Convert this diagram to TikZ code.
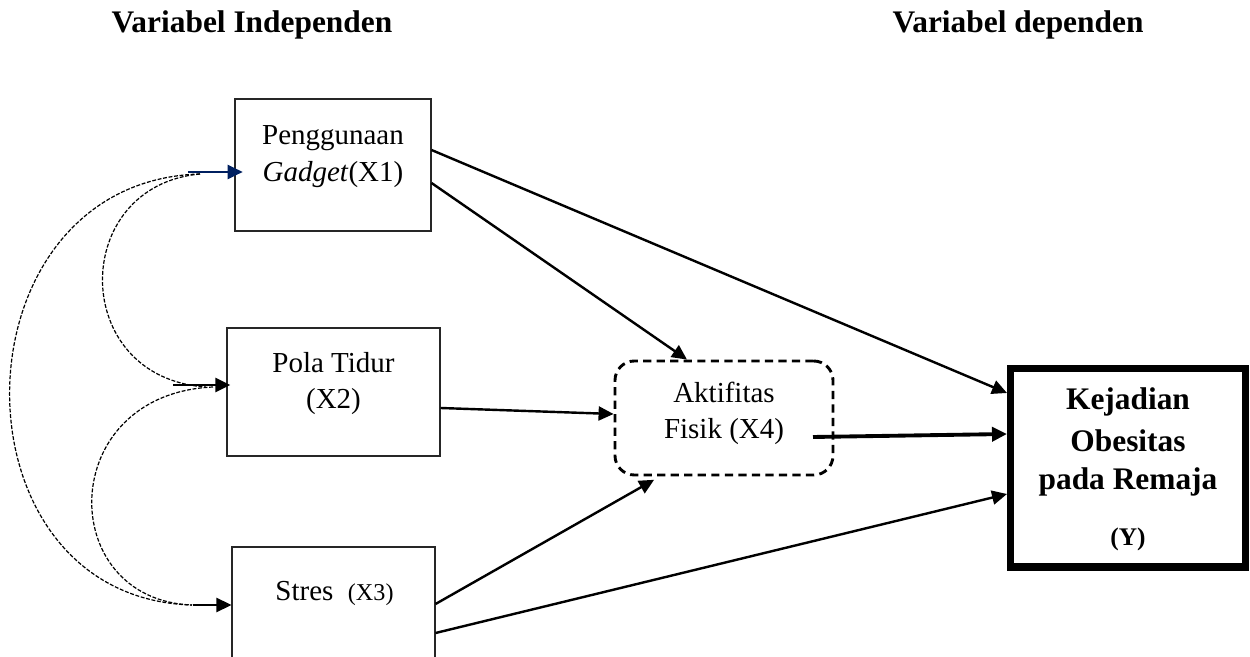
\documentclass[tikz,border=0pt]{standalone}
\usepackage{fontspec}
\setmainfont{Liberation Serif}
\usetikzlibrary{arrows.meta,fit}
\definecolor{navyarr}{RGB}{0,32,96}
\begin{document}
\begin{tikzpicture}[x=0.414pt,y=-0.414pt,
  box/.style={draw=black!85, line width=0.45pt, inner sep=0pt},
  dbox/.style={draw, line width=1.2pt, dash pattern=on 3.4pt off 2.2pt, rounded corners=8pt, inner sep=0pt},
  ybox/.style={draw, line width=2.9pt, inner sep=0pt},
  lbl/.style={inner sep=0pt, anchor=base, font=\fontsize{12}{14}\selectfont},
  blbl/.style={inner sep=0pt, anchor=base, font=\fontsize{13}{15}\selectfont\bfseries},
  conn/.style={line width=1pt, -{Triangle[length=6.2pt,width=5.8pt]}},
  corr/.style={line width=0.5pt, dash pattern=on 1.6pt off 0.7pt},
]
\useasboundingbox (0,0) rectangle (1250,657);
\clip (0,0) rectangle (1250,657);

% headings
\node[blbl] (t1) at (252,33) {Variabel Independen};
\node[blbl] (t2) at (1018,33) {Variabel dependen};

% boxes
\node[box, fit={(235,99) (431,231)}] (x1) {};
\node[box, fit={(227,328) (440,456)}] (x2) {};
\node[box, fit={(232,547) (435,720)}] (x3) {};
\node[dbox, fit={(615,361) (833,475)}] (x4) {};
\node[ybox, fit={(1010.5,369) (1245.5,567)}] (y) {};

% labels
\node[lbl] (x1a) at (333,145) {Penggunaan};
\node[lbl] (x1b) at (333,182) {\textit{Gadget}(X1)};
\node[lbl] (x2a) at (333.5,373) {Pola Tidur};
\node[lbl] (x2b) at (333.5,409) {(X2)};
\node[lbl, anchor=base west] (x3a) at (275,601) {Stres\hspace{6pt}{\fontsize{10}{12}\selectfont(X3)}};
\node[lbl] (x4a) at (724,403) {Aktifitas};
\node[lbl] (x4b) at (724,439) {Fisik (X4)};
\node[blbl] (ya) at (1128,410) {Kejadian};
\node[blbl] (yb) at (1128,452) {Obesitas};
\node[blbl] (yc) at (1128,490) {pada Remaja};
\node[blbl, font=\fontsize{10.5}{12}\selectfont\bfseries] (yd) at (1128,546) {(Y)};

% main connectors
\draw[conn] (x1.east |- 0,150) -- (y.west |- 0,393);
\draw[conn] (x1.east |- 0,183) -- (x4.north -| 687,0);
\draw[conn] (x2.east |- 0,408) -- (x4.west |- 0,414);
\draw[conn, shorten >=2.8pt] (x3.east |- 0,604) -- (x4.south -| 660,0);
\draw[conn] (x3.east |- 0,633) -- (y.west |- 0,494);
\coordinate (x4out) at (813,437);
\draw[conn, line width=1.6pt] (x4out) -- (y.west |- 0,434);

% left incoming arrows
\coordinate (l1) at (188,172);
\coordinate (l2) at (173,385);
\coordinate (l3) at (193,605);
\draw[conn, color=navyarr, shorten >=-3.4pt] (l1) -- (x1.west |- l1);
\draw[conn, shorten >=-1.6pt] (l2) -- (x2.west |- l2);
\draw[conn] (l3) -- (x3.west |- l3);

% correlation curves
\coordinate (c1) at (200,174);
\coordinate (c2a) at (206,387);
\coordinate (c2b) at (213,387);
\coordinate (c3) at (192,605);
\draw[corr] (c1) .. controls (69,186) and (69,378) .. (c2a);
\draw[corr] (c2b) .. controls (55,394) and (55,600) .. (c3);
\draw[corr] (c1) .. controls (-50,181) and (-55,598) .. (c3);
\end{tikzpicture}
\end{document}
